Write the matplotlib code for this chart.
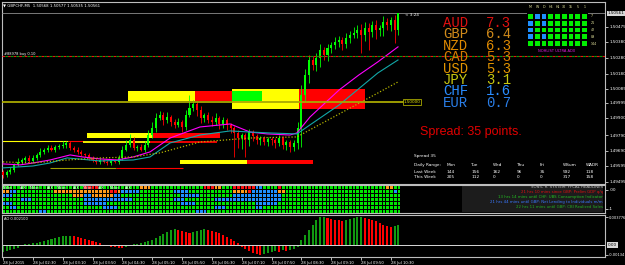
import numpy as np
import matplotlib.pyplot as plt
from matplotlib.patches import Rectangle
from matplotlib.colors import ListedColormap

plt.rcParams['font.family'] = ['DejaVu Sans']

# ---- price data (GBPCHF M5, one bar every 5 min from 28 Jul 01:50) ----
first_open = 1.49560
closes = [
    1.49538, 1.49557, 1.49570, 1.49602, 1.49621, 1.49633, 1.49646, 1.49627, 1.49646, 1.49665,
    1.49684, 1.49697, 1.49709, 1.49697, 1.49716, 1.49722, 1.49728, 1.49741, 1.49709, 1.49697,
    1.49684, 1.49671, 1.49665, 1.49646, 1.49633, 1.49621, 1.49633, 1.49621, 1.49614, 1.49627,
    1.49621, 1.49646, 1.49697, 1.49728, 1.49760, 1.49709, 1.49716, 1.49697, 1.49728, 1.49791,
    1.49836, 1.49899, 1.49918, 1.49886, 1.49905, 1.49874, 1.49855, 1.49874, 1.49842, 1.49918,
    1.49962, 1.49988, 1.49950, 1.49899, 1.49918, 1.49886, 1.49874, 1.49899, 1.49861, 1.49886,
    1.49855, 1.49836, 1.49804, 1.49772, 1.49791, 1.49760, 1.49810, 1.49785, 1.49760, 1.49772,
    1.49747, 1.49766, 1.49760, 1.49741, 1.49772, 1.49728, 1.49747, 1.49716, 1.49741, 1.49836,
    1.50045, 1.50171, 1.50266, 1.50235, 1.50279, 1.50330, 1.50298, 1.50342, 1.50361, 1.50380,
    1.50393, 1.50367, 1.50405, 1.50424, 1.50437, 1.50456, 1.50424, 1.50469, 1.50443, 1.50488,
    1.50456, 1.50469, 1.50507, 1.50488, 1.50519, 1.50456, 1.50561]

# wick lengths beyond the body, in points (0.00001)
wick_up = [
    10, 15, 20, 15, 25, 15, 10, 20, 18, 15,
    22, 12, 18, 20, 15, 12, 25, 15, 15, 10,
    20, 12, 8, 10, 15, 12, 10, 8, 12, 10,
    15, 20, 25, 30, 35, 20, 15, 18, 25, 30,
    40, 30, 25, 20, 30, 15, 20, 25, 15, 30,
    83, 25, 20, 25, 15, 20, 25, 30, 15, 20,
    10, 15, 12, 20, 15, 10, 18, 12, 15, 10,
    12, 15, 10, 12, 20, 15, 10, 12, 18, 40,
    60, 40, 30, 25, 30, 35, 20, 25, 20, 30,
    25, 20, 30, 25, 40, 30, 35, 40, 30, 25,
    30, 20, 35, 25, 20, 30, 5]
wick_dn = [
    20, 15, 10, 12, 10, 15, 12, 10, 15, 12,
    10, 15, 12, 10, 15, 12, 10, 20, 12, 15,
    12, 10, 15, 12, 15, 12, 15, 10, 12, 15,
    10, 12, 15, 10, 12, 15, 20, 10, 12, 15,
    20, 25, 15, 30, 20, 25, 20, 15, 30, 20,
    15, 20, 40, 30, 25, 20, 25, 20, 30, 25,
    30, 35, 150, 60, 70, 110, 40, 30, 25, 30,
    20, 25, 30, 35, 20, 25, 30, 35, 25, 40,
    120, 40, 50, 30, 40, 60, 30, 40, 30, 25,
    30, 40, 25, 30, 20, 30, 114, 40, 113, 30,
    60, 40, 50, 30, 40, 80, 30]

# moving averages (bar index, price)
ma_fast_x = [0, 4.6, 8, 12.6, 18, 21.4, 26, 30.6, 34.9, 39.4, 44.8, 52.8, 60.9, 63.5, 66.2,
             70.8, 76.9, 78.8, 82.3, 90.1, 95.4, 100.5, 105.9]
ma_fast_y = [1.49608, 1.49602, 1.49614, 1.49633, 1.49665, 1.49652, 1.49640, 1.49633, 1.49652,
             1.49684, 1.49772, 1.49842, 1.49861, 1.49836, 1.49810, 1.49798, 1.49791, 1.49804,
             1.49905, 1.50076, 1.50171, 1.50254, 1.50349]
ma_mid_x = [0, 8, 12.6, 17.2, 26, 34.9, 39.4, 44.8, 52.8, 60.9, 66.2, 71.6, 78.8, 82.3,
            90.1, 100.5, 105.9]
ma_mid_y = [1.49583, 1.49595, 1.49614, 1.49646, 1.49627, 1.49633, 1.49652, 1.49741, 1.49791,
            1.49817, 1.49810, 1.49804, 1.49798, 1.49855, 1.49981, 1.50184, 1.50266]
ma_slow_x = [0, 8, 17.2, 26, 34.9, 42.1, 52.8, 66.2, 78.8, 90.1, 100.5, 105.9]
ma_slow_y = [1.49621, 1.49614, 1.49633, 1.49646, 1.49652, 1.49678, 1.49747, 1.49772, 1.49779,
             1.49924, 1.50057, 1.50127]

# supply / demand zones
zone_x0 = [33.5, 51.5, 61.4, 79.4, 22.5, 40.2, 47.5, 65.4]
zone_x1 = [51.5, 61.4, 79.4, 97.1, 40.2, 58.2, 65.4, 83.1]
zone_lo = [1.50007, 1.50007, 1.49956, 1.49956, 1.49772, 1.49772, 1.49608, 1.49608]
zone_hi = [1.50070, 1.50070, 1.50083, 1.50083, 1.49804, 1.49804, 1.49633, 1.49633]
zone_col = ['#ffff00', '#ff0000', '#ffff00', '#ff0000', '#ffff00', '#ff0000', '#ffff00', '#ff0000']
green_zone = (61.4, 69.4, 1.50007, 1.50068)

seg_x0 = [-0.3, 17.4, 21.5, 39.4, 12.6, 30.3]
seg_x1 = [17.4, 21.5, 39.4, 57.4, 30.3, 48.3]
seg_y = [1.49753, 1.49753, 1.49747, 1.49747, 1.49583, 1.49583]
seg_col = ['#ffff00', '#ff0000', '#ffff00', '#ff0000', '#a0a000', '#ff0000']
seg_lw = [0.8, 0.8, 1.3, 1.3, 0.8, 0.8]

level_price = 1.50000
order_price = 1.50292
bid_price = 1.50561

price_ticks = [1.50475, 1.50380, 1.50280, 1.50180, 1.50085, 1.49995, 1.49900,
               1.49790, 1.49690, 1.49595, 1.49495]

time_pos = [0, 8, 16, 24, 32, 40, 48, 56, 64, 72, 80, 88, 96, 104]
time_labels = ['28 Jul 2015', '28 Jul 02:30', '28 Jul 03:10', '28 Jul 03:50', '28 Jul 04:30',
               '28 Jul 05:10', '28 Jul 05:50', '28 Jul 06:30', '28 Jul 07:10', '28 Jul 07:50',
               '28 Jul 08:30', '28 Jul 09:10', '28 Jul 09:50', '28 Jul 10:30']

# awesome oscillator
ao = [
    -0.00095, -0.00081, -0.00068, -0.00054, -0.00041, -0.00014, 0.00010, 0.00016, 0.00027, 0.00030,
    0.00041, 0.00054, 0.00068, 0.00081, 0.00095, 0.00108, 0.00118, 0.00122, 0.00125, 0.00120,
    0.00108, 0.00095, 0.00081, 0.00068, 0.00054, 0.00041, 0.00027, -0.00014, -0.00018, -0.00027,
    -0.00030, -0.00041, -0.00045, -0.00027, -0.00014, 0.00007, 0.00014, 0.00027, 0.00041, 0.00054,
    0.00068, 0.00095, 0.00122, 0.00149, 0.00176, 0.00203, 0.00216, 0.00203, 0.00189, 0.00176,
    0.00162, 0.00176, 0.00189, 0.00203, 0.00210, 0.00203, 0.00189, 0.00176, 0.00162, 0.00135,
    0.00108, 0.00081, 0.00054, 0.00027, -0.00027, -0.00054, -0.00081, -0.00108, -0.00122, -0.00135,
    -0.00122, -0.00108, -0.00095, -0.00081, -0.00088, -0.00068, -0.00081, -0.00068, -0.00054, -0.00027,
    0.00068, 0.00135, 0.00203, 0.00270, 0.00338, 0.00372, 0.00378, 0.00365, 0.00351, 0.00338,
    0.00331, 0.00324, 0.00338, 0.00351, 0.00365, 0.00372, 0.00378, 0.00365, 0.00351, 0.00338,
    0.00324, 0.00297, 0.00270, 0.00257, 0.00243, 0.00257, 0.00270]

# session heatmap rows (G green, B blue, O orange, R red), run lengths
heat_rows = [
    'G22 R4 G11 O3 G14 R3 O2 G3 R6 B2 G4 R1 G28 O2 G2',
    'O2 B2 G10 O15 R2 O1 B5 G9 B4 G12 O4 R1 B7 O2 G29 B1 G1',
    'B3 G16 O3 B2 O6 B2 G16 B5 G9 B13 G32',
    'G5 B3 G14 B13 G11 B3 G8 B18 G32',
    'B3 G19 B6 G20 B4 G16 B6 G33',
    'G2 B2 G23 B4 G26 B3 G8 B2 G37',
    'G10 B2 G40 B3 G52',
]
session_labels = ['Nikkei', 'ASX'] * 5
session_px = [3, 20, 30, 47, 57, 73, 83, 98, 110, 125]

# currency strength
currencies = ['AUD', 'GBP', 'NZD', 'CAD', 'USD', 'JPY', 'CHF', 'EUR']
strength = ['7.3', '6.4', '6.3', '5.3', '5.3', '3.1', '1.6', '0.7']
cur_colors = ['#e01010', '#d08a1a', '#e08a00', '#d87a00', '#e29400', '#c8c810', '#2a8cff', '#2a7ee8']

# ultra ADX grid
adx_cols = ['M', 'W', 'D', 'H4', 'H1', '30', '15', '5', '1']
adx_rows = ['7', '21', '42', '89', '144']
adx_state = [
    [0, 1, 1, 0, 0, 0, 0, 0, 0],
    [1, 0, 1, 0, 0, 0, 0, 0, 0],
    [1, 0, 0, 0, 0, 0, 0, 0, 0],
    [1, 0, 1, 0, 0, 0, 0, 0, 0],
    [0, 0, 0, 0, 0, 0, 0, 0, 0],
]

# spread table
range_days = ['Mon', 'Tue', 'Wed', 'Thu', 'Fri', 'WSum', 'WADR']
last_week = ['144', '156', '162', '96', '35', '592', '118']
this_week = ['205', '112', '0', '0', '0', '317', '158']

news = ['SONIC R. SYSTEM: FFCAL HEADLINES',
        '21 hrs 10 mins since GBP: Prelim GDP q/q',
        '13 hrs 14 mins until CHF: UBS Consumption Indicator',
        '21 hrs 44 mins until GBP: Net Lending to Individuals m/m',
        '22 hrs 11 mins until GBP: CBI Realized Sales']
news_colors = ['#bbbbbb', '#e01010', '#22c022', '#3a78ff', '#22b022']

# ---------------------------------------------------------------
W, H = 625, 265
def fx(px):
    return px / W
def fy(py):
    return 1 - py / H

fig = plt.figure(figsize=(W / 100, H / 100), dpi=100, facecolor='black')
frame = '#bdbdbd'
xlim = (-0.27, 161.4)

def style(ax):
    ax.set_facecolor('black')
    for s in ax.spines.values():
        s.set_color(frame)
        s.set_linewidth(0.8)
    ax.tick_params(colors='white', labelcolor='white', length=2, width=0.5, labelsize=3, pad=1)
    ax.set_xlim(*xlim)

ax = fig.add_axes([fx(2), fy(184), fx(605) - fx(2), 182 / H])
style(ax)
ax.set_ylim(1.49481, 1.50633)
ax.set_xticks([])
ax.yaxis.tick_right()
ax.set_yticks(price_ticks)
ax.set_yticklabels(['%.5f' % p for p in price_ticks])

# zones
for x0, x1, lo, hi, cl in zip(zone_x0, zone_x1, zone_lo, zone_hi, zone_col):
    ax.add_patch(Rectangle((x0, lo), x1 - x0, hi - lo, color=cl, lw=0, zorder=2))
gx0, gx1, glo, ghi = green_zone
ax.add_patch(Rectangle((gx0, glo), gx1 - gx0, ghi - glo, color='#00ff00', lw=0, zorder=2))
for x0, x1, yv, cl, lw in zip(seg_x0, seg_x1, seg_y, seg_col, seg_lw):
    ax.plot([x0, x1], [yv, yv], color=cl, lw=lw, zorder=2, solid_capstyle='butt')

# candles
n = len(closes)
x = np.arange(n)
c = np.array(closes)
o = np.array([first_open] + closes[:-1])
hi = np.maximum(o, c) + np.array(wick_up) * 1e-5
lo = np.minimum(o, c) - np.array(wick_dn) * 1e-5
cols = np.where(c >= o, '#00ff00', '#ff0000')
ax.vlines(x, lo, hi, colors=cols, lw=0.6, zorder=4)
ax.bar(x, np.maximum(np.abs(c - o), 0.00004), bottom=np.minimum(o, c), width=0.55,
       color=cols, lw=0, zorder=5)

# moving averages
ax.plot(ma_fast_x, ma_fast_y, color='#ff00ff', lw=0.8, zorder=6)
ax.plot(ma_mid_x, ma_mid_y, color='#12a8a8', lw=0.8, zorder=6)
ax.plot(ma_slow_x, ma_slow_y, color='#b4b400', lw=0.9, ls=(0, (1, 1.5)), zorder=6)

# horizontal levels
ax.plot([xlim[0], 107.2], [level_price, level_price], color='#a8a800', lw=1.3, zorder=7)
ax.text(107.4, level_price, '1.50000', fontsize=3, color='#e6e600', va='center', ha='left',
        zorder=8, bbox=dict(fc='black', ec='#a8a800', lw=0.6, pad=0.6))
ax.plot(list(xlim), [order_price] * 2, color='#ee1010', lw=0.8, ls=(0, (2.5, 2.5)), zorder=7)
ax.plot(list(xlim), [order_price] * 2, color='#0a9a0a', lw=0.8, ls=(2.5, (2.5, 2.5)), zorder=7)
ax.plot(list(xlim), [bid_price] * 2, color='#8c8c8c', lw=0.6, zorder=3)

fig.text(fx(4), fy(53.5), '#88978 buy 0.10', fontsize=2.6, color='white', va='center')
fig.text(fx(3), fy(5.5), '\u25bc GBPCHF,M5  1.50568 1.50577 1.50535 1.50561', fontsize=2.8,
         color='white', va='center')
fig.text(fx(405), fy(15), '< 3:24', fontsize=3, color='white', va='center')
fig.text(fx(608), fy(13.5), '%.5f' % bid_price, fontsize=3, color='black', va='center',
         bbox=dict(fc='#d8d8d8', ec='none', pad=0.5))

# currency strength
for k, (cur, val, cl) in enumerate(zip(currencies, strength, cur_colors)):
    yb = 27 + k * 11.4
    fig.text(fx(443), fy(yb), cur, fontsize=10, color=cl, family='Liberation Mono', va='baseline')
    fig.text(fx(486), fy(yb), val, fontsize=10, color=cl, family='Liberation Mono', va='baseline')

fig.text(fx(420), fy(135), 'Spread: 35 points.', fontsize=9, color='#e00000',
         family='Liberation Sans', va='baseline')

# ADX grid
axg = fig.add_axes([fx(527), fy(47), (588 - 527) / W, 34 / H])
axg.pcolormesh(np.array(adx_state), cmap=ListedColormap(['#00ee00', '#1e90ff']), vmin=0, vmax=1,
               edgecolors='black', linewidth=1.1)
axg.set_ylim(5, 0)
axg.axis('off')
for j, t in enumerate(adx_cols):
    fig.text(fx(527 + 6.8 * (j + 0.5)), fy(7), t, fontsize=2.3, color='#e8e8a0', ha='center', va='center')
for i, t in enumerate(adx_rows):
    fig.text(fx(591), fy(13 + 6.8 * (i + 0.5)), t, fontsize=2.3, color='#e8e8a0', va='center')
fig.text(fx(557), fy(50.5), 'NOHLIST ULTRA ADX', fontsize=2.6, color='#e020e0', ha='center', va='center')

# spread table
fig.text(fx(414), fy(156), 'Spread 35', fontsize=3.1, color='white', va='center')
fig.text(fx(414), fy(165), 'Daily Range:', fontsize=3.1, color='white', va='center')
fig.text(fx(414), fy(172), 'Last Week', fontsize=3.1, color='white', va='center')
fig.text(fx(414), fy(177), 'This Week', fontsize=3.1, color='white', va='center')
col_px = [447, 471, 493, 517, 540, 563, 586]
for cx, d, lw_, tw in zip(col_px, range_days, last_week, this_week):
    fig.text(fx(cx), fy(165), d, fontsize=3.1, color='white', va='center')
    fig.text(fx(cx), fy(172), lw_, fontsize=3.1, color='white', va='center')
    fig.text(fx(cx), fy(177), tw, fontsize=3.1, color='white', va='center')

# heatmap panel
axh = fig.add_axes([fx(2), fy(213), fx(605) - fx(2), 28 / H])
style(axh)
code = {'G': 0, 'B': 1, 'O': 2, 'R': 3}
mat = []
for r in heat_rows:
    cells = []
    for tok in r.split():
        cells += [code[tok[0]]] * int(tok[1:])
    cells = (cells + [0] * n)[:n]
    mat.append(cells)
mat = np.array(mat)
axh.pcolormesh(np.arange(n + 1) - 0.5, np.arange(len(heat_rows) + 1), mat,
               cmap=ListedColormap(['#00e600', '#1e90ff', '#ff9a1a', '#ff1010']), vmin=0, vmax=3,
               edgecolors='black', linewidth=0.4)
axh.set_ylim(len(heat_rows), 0)
axh.set_xticks([])
axh.yaxis.tick_right()
axh.set_yticks([1.2, 6.0])
axh.set_yticklabels(['.00', '-1'])
axh.add_patch(Rectangle((123, 0.25), 37.8, 6.5, color='#1c1c1c', lw=0))
for t, px in zip(session_labels, session_px):
    fig.text(fx(px), fy(188), t, fontsize=2.3, color='white', va='center')
for k, (t, cl) in enumerate(zip(news, news_colors)):
    fig.text(fx(603), fy(187 + k * 5.1), t, fontsize=2.8, color=cl, ha='right', va='center')

# AO panel
axa = fig.add_axes([fx(2), fy(257), fx(605) - fx(2), 42 / H])
style(axa)
axa.set_ylim(-0.00162, 0.00405)
aov = np.array(ao)
ao_cols = ['#119911'] + ['#119911' if aov[i] > aov[i - 1] else '#ff0000' for i in range(1, n)]
axa.bar(x, aov, width=0.55, color=ao_cols, lw=0)
axa.axhline(0, color='#d8d8d8', lw=0.7)
axa.yaxis.tick_right()
axa.set_yticks([0.003776, -0.00134])
axa.set_yticklabels(['0.003776', '-0.00134'])
axa.tick_params(axis='y', labelsize=2.6, pad=0.8)
fig.text(fx(608), fy(245), '0.00', fontsize=3, color='black', va='center',
         bbox=dict(fc='#d8d8d8', ec='none', pad=0.5))
fig.text(fx(4), fy(218.5), 'AO 0.002100', fontsize=2.6, color='white', va='center')
axa.set_xticks(time_pos)
axa.set_xticklabels(time_labels)
for lab in axa.get_xticklabels():
    lab.set_horizontalalignment('left')
axa.tick_params(axis='x', labelsize=2.7, pad=1.2)

fig.savefig('out.png', dpi=100, facecolor='black')
